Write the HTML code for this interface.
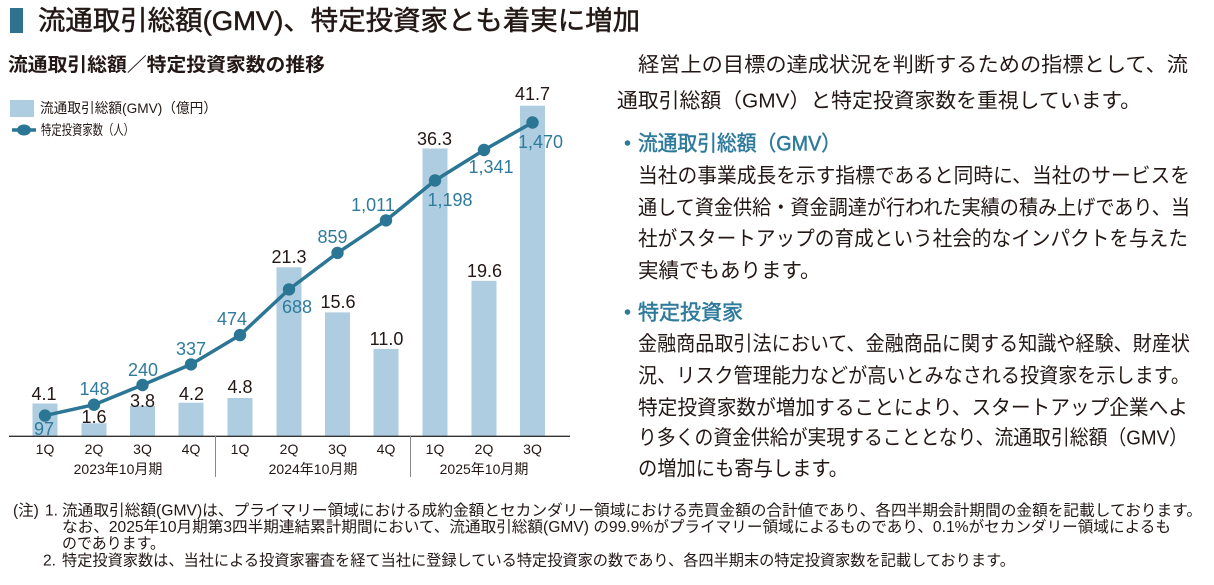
<!DOCTYPE html>
<html>
<head>
<meta charset="utf-8">
<style>
html,body{margin:0;padding:0;background:#fff;}
svg{display:block;}
text{font-family:"Liberation Sans","Noto Sans CJK JP",sans-serif;}
</style>
</head>
<body>
<svg width="1214" height="585" viewBox="0 0 1214 585" xmlns="http://www.w3.org/2000/svg">
<!-- Title -->
<rect x="10" y="8" width="13" height="25" fill="#2e7290"/>
<text x="38" y="30" font-size="27" fill="#231815" stroke="#231815" stroke-width="0.5" textLength="602" lengthAdjust="spacingAndGlyphs">流通取引総額(GMV)、特定投資家とも着実に増加</text>

<!-- Subtitle -->
<text x="8" y="71" font-size="19" font-weight="bold" fill="#231815" textLength="317" lengthAdjust="spacingAndGlyphs">流通取引総額／特定投資家数の推移</text>

<!-- Legend -->
<rect x="10" y="100" width="24" height="17" fill="#aecde1"/>
<text x="40" y="113" font-size="14" fill="#231815" textLength="177" lengthAdjust="spacingAndGlyphs">流通取引総額(GMV)（億円）</text>
<line x1="12" y1="130" x2="36" y2="130" stroke="#2b7595" stroke-width="3.5"/>
<ellipse cx="24" cy="130" rx="7" ry="5.5" fill="#2b7595"/>
<text x="41" y="135" font-size="14" fill="#231815" textLength="93" lengthAdjust="spacingAndGlyphs">特定投資家数（人）</text>

<!-- Bars -->
<g fill="#aecde1">
<rect x="32.5" y="403.5" width="25" height="32.5"/>
<rect x="81.5" y="423.3" width="25" height="12.7"/>
<rect x="130" y="406" width="25" height="30"/>
<rect x="178.5" y="402.7" width="25" height="33.3"/>
<rect x="227.5" y="398" width="25" height="38"/>
<rect x="276.5" y="267.3" width="25" height="168.7"/>
<rect x="325" y="312.4" width="25" height="123.6"/>
<rect x="373.5" y="348.9" width="25" height="87.1"/>
<rect x="422.5" y="148.5" width="25" height="287.5"/>
<rect x="471.5" y="280.8" width="25" height="155.2"/>
<rect x="520" y="105.7" width="25" height="330.3"/>
</g>

<!-- Axis -->
<line x1="9" y1="436.3" x2="570" y2="436.3" stroke="#333" stroke-width="1.4"/>
<line x1="215.5" y1="436" x2="215.5" y2="477" stroke="#888" stroke-width="1"/>
<line x1="410.5" y1="436" x2="410.5" y2="477" stroke="#888" stroke-width="1"/>

<!-- Quarter labels -->
<g font-size="14" fill="#231815" text-anchor="middle">
<text x="45" y="454">1Q</text>
<text x="94" y="454">2Q</text>
<text x="142.5" y="454">3Q</text>
<text x="191" y="454">4Q</text>
<text x="240" y="454">1Q</text>
<text x="289" y="454">2Q</text>
<text x="337.5" y="454">3Q</text>
<text x="386" y="454">4Q</text>
<text x="435" y="454">1Q</text>
<text x="484" y="454">2Q</text>
<text x="532.5" y="454">3Q</text>
<text x="118" y="474">2023年10月期</text>
<text x="313" y="474">2024年10月期</text>
<text x="484" y="474">2025年10月期</text>
</g>

<!-- Line series -->
<polyline fill="none" stroke="#2b7595" stroke-width="3.5" stroke-linejoin="round"
 points="45,415.6 94,404.7 142.5,385 191,364.4 240,335.1 289,289.4 337.5,252.9 386,220.4 435,180.5 484,150 532.5,122.5"/>
<g fill="#2b7595">
<circle cx="45" cy="415.6" r="6.2"/>
<circle cx="94" cy="404.7" r="6.2"/>
<circle cx="142.5" cy="385" r="6.2"/>
<circle cx="191" cy="364.4" r="6.2"/>
<circle cx="240" cy="335.1" r="6.2"/>
<circle cx="289" cy="289.4" r="6.2"/>
<circle cx="337.5" cy="252.9" r="6.2"/>
<circle cx="386" cy="220.4" r="6.2"/>
<circle cx="435" cy="180.5" r="6.2"/>
<circle cx="484" cy="150" r="6.2"/>
<circle cx="532.5" cy="122.5" r="6.2"/>
</g>

<!-- Bar value labels -->
<g font-size="18" fill="#231815" text-anchor="middle">
<text x="44" y="400">4.1</text>
<text x="94" y="423">1.6</text>
<text x="142.5" y="407">3.8</text>
<text x="191.5" y="400">4.2</text>
<text x="240" y="393">4.8</text>
<text x="289" y="263">21.3</text>
<text x="338" y="308">15.6</text>
<text x="386.5" y="345">11.0</text>
<text x="434.5" y="145">36.3</text>
<text x="484.5" y="277">19.6</text>
<text x="532.5" y="100">41.7</text>
</g>

<!-- Line value labels -->
<g font-size="18" fill="#2f7b9c" text-anchor="middle">
<text x="44" y="435">97</text>
<text x="94.5" y="395">148</text>
<text x="143" y="376">240</text>
<text x="191" y="355">337</text>
<text x="232" y="325">474</text>
<text x="297" y="313">688</text>
<text x="332.5" y="243">859</text>
<text x="373" y="211">1,011</text>
<text x="450" y="206">1,198</text>
<text x="491" y="173">1,341</text>
<text x="540.5" y="148">1,470</text>
</g>

<!-- Right text -->
<g font-size="20.5" fill="#231815">
<text x="638" y="71.5" textLength="550" lengthAdjust="spacingAndGlyphs">経営上の目標の達成状況を判断するための指標として、流</text>
<text x="617" y="107.5" textLength="524" lengthAdjust="spacingAndGlyphs">通取引総額（GMV）と特定投資家数を重視しています。</text>
<text x="638" y="182.5" textLength="552" lengthAdjust="spacingAndGlyphs">当社の事業成長を示す指標であると同時に、当社のサービスを</text>
<text x="638" y="214.5" textLength="552" lengthAdjust="spacingAndGlyphs">通して資金供給・資金調達が行われた実績の積み上げであり、当</text>
<text x="638" y="245.5" textLength="550" lengthAdjust="spacingAndGlyphs">社がスタートアップの育成という社会的なインパクトを与えた</text>
<text x="638" y="277.5">実績でもあります。</text>
<text x="638" y="350.5" textLength="552" lengthAdjust="spacingAndGlyphs">金融商品取引法において、金融商品に関する知識や経験、財産状</text>
<text x="638" y="382.5" textLength="552" lengthAdjust="spacingAndGlyphs">況、リスク管理能力などが高いとみなされる投資家を示します。</text>
<text x="638" y="414.5" textLength="550" lengthAdjust="spacingAndGlyphs">特定投資家数が増加することにより、スタートアップ企業へよ</text>
<text x="638" y="444.5" textLength="550" lengthAdjust="spacingAndGlyphs">り多くの資金供給が実現することとなり、流通取引総額（GMV）</text>
<text x="638" y="475.5" textLength="210" lengthAdjust="spacingAndGlyphs">の増加にも寄与します。</text>
</g>
<g fill="#2e7a9b">
<circle cx="627.5" cy="143" r="2.8"/>
<circle cx="627.5" cy="312" r="2.8"/>
<text x="638" y="150.5" font-size="21" stroke="#2e7a9b" stroke-width="0.5" textLength="203" lengthAdjust="spacingAndGlyphs">流通取引総額（GMV）</text>
<text x="638" y="319.5" font-size="21" stroke="#2e7a9b" stroke-width="0.5" textLength="105" lengthAdjust="spacingAndGlyphs">特定投資家</text>
</g>

<!-- Footnotes -->
<g font-size="15.5" fill="#231815">
<text x="13" y="515.5">(注)</text>
<text x="45" y="515.5">1.</text>
<text x="62" y="515.5" textLength="1140" lengthAdjust="spacingAndGlyphs">流通取引総額(GMV)は、プライマリー領域における成約金額とセカンダリー領域における売買金額の合計値であり、各四半期会計期間の金額を記載しております。</text>
<text x="62" y="532" textLength="1109" lengthAdjust="spacingAndGlyphs">なお、2025年10月期第3四半期連結累計期間において、流通取引総額(GMV) の99.9%がプライマリー領域によるものであり、0.1%がセカンダリー領域によるも</text>
<text x="62" y="548.5" textLength="103" lengthAdjust="spacingAndGlyphs">のであります。</text>
<text x="43" y="565.5">2.</text>
<text x="62" y="565.5" textLength="953" lengthAdjust="spacingAndGlyphs">特定投資家数は、当社による投資家審査を経て当社に登録している特定投資家の数であり、各四半期末の特定投資家数を記載しております。</text>
</g>
</svg>
</body>
</html>
